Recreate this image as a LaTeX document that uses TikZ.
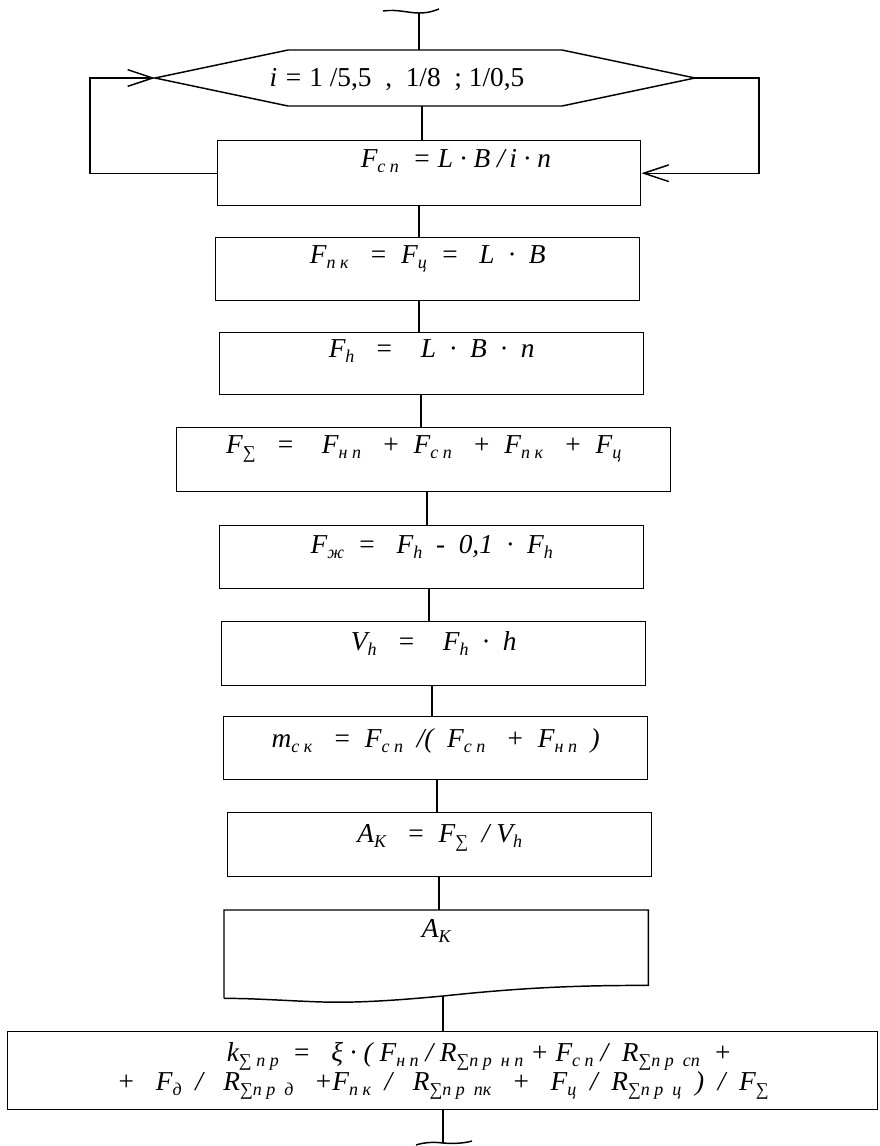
\documentclass[tikz,border=0pt]{standalone}
\usepackage{fontspec}
\setmainfont{Liberation Serif}
\usetikzlibrary{arrows.meta}
\newcommand\sbs[1]{\raisebox{-3.8pt}{\fontsize{13.5}{14}\selectfont #1}}
\begin{document}
\begin{tikzpicture}[x=0.75pt,y=-0.75pt,line width=1.1pt,
  txt/.style={font=\itshape\fontsize{20.5}{24}\selectfont},
  box/.style={draw,rectangle,inner sep=0pt,anchor=north west,txt,minimum width=318pt},
  plain/.style={rectangle,inner sep=0pt,anchor=north west,txt},
  conn/.style={draw,line width=1.1pt},
  barb/.style={-{Straight Barb[length=18.75pt,width=12.5pt]}}]
\fill[white] (0,0) rectangle (880,1146);
\path[use as bounding box] (0,0) rectangle (880,1146);

% start terminator
\coordinate (st) at (419,13);
\draw (383,11) .. controls (398,9) and (408,13) .. (st) .. controls (428,13) and (434,11) .. (439,9);

% hexagon (loop)
\coordinate (hL) at (155,78);
\coordinate (hR) at (695,78);
\coordinate (hT) at (419,50);
\coordinate (hB) at (422,106);
\draw (hL) -- (288,50) -- (562,50) -- (hR) -- (562,106) -- (288,106) -- cycle;
\node[txt,anchor=base] (hx) at (397,86) {i~=~\upshape 1~/5,5~~,~~1/8~~;~1/0,5};

% boxes
\node[box,minimum width=317.25pt,text height=20.25pt,text depth=28.5pt] (b1) at (217,140)
  {\hspace*{40pt}F\sbs{с~п}~~=~L~·~B~/\,i~·~n};
\node[box,text height=19.5pt,text depth=27.75pt] (b2) at (215,237)
  {F\sbs{п~к}~~~=~~F\sbs{ц}~~=~~~L~~·~~B};
\node[box,text height=18.75pt,text depth=27.75pt] (b3) at (219,332)
  {F\sbs{h}~~~=~~~~L~~·~~B~~·~~n};
\node[box,minimum width=370.5pt,text height=19.5pt,text depth=28.5pt] (b4) at (176,427)
  {F\sbs{∑}~~~=~~~~F\sbs{н~п}~~~+~~F\sbs{с~п}~~~+~~F\sbs{п~к}~~~+~~F\sbs{ц}};
\node[box,text height=21pt,text depth=26.25pt] (b5) at (219,525)
  {F\sbs{ж}~~=~~~F\sbs{h}~~-~~0,1~~·~~F\sbs{h}};
\node[box,text height=21.75pt,text depth=26.25pt] (b6) at (221,621)
  {V\sbs{h}~~~=~~~~F\sbs{h}~~·~~h};
\node[box,text height=23.25pt,text depth=24pt] (b7) at (223,716)
  {m\sbs{с~к}~~~=~~F\sbs{с~п}~~/(~~F\sbs{с~п}~~~+~~F\sbs{н~п}~~)};
\node[box,text height=22.5pt,text depth=25.5pt] (b8) at (227,812)
  {A\sbs{K}~~~=~~F\sbs{∑}~~/~V\sbs{h}};

% document (output) shape
\node[plain,minimum width=317.25pt,text height=20.25pt,text depth=45pt] (doc) at (224,910) {A\sbs{K}};
\coordinate (wv) at (443,996);
\draw (doc.south west) -- (doc.north west) -- (doc.north east) -- ([yshift=9.75pt]doc.south east)
  .. controls (560,985) and (500,990) .. (wv)
  .. controls (400,1000) and (360,1003) .. (323,1002)
  .. controls (290,1001) and (250,998) .. (doc.south west);

\node[box,minimum width=652.5pt,minimum height=58.5pt,align=center,
  font=\itshape\fontsize{20.5}{20.25}\selectfont] (b9) at (7,1031)
  {\hspace*{55pt}k\sbs{∑~п~р}~~=~~~ξ~·~(~F\sbs{н~п}~/~R\sbs{∑п~р~~н~п}~+~F\sbs{с~п}~/~~R\sbs{∑п~р~~сп}~~+\\
   +~~~F\sbs{д}~~/~~~R\sbs{∑п~р~~д}~~~+F\sbs{п~к}~~/~~~R\sbs{∑п~р~~пк}~~~+~~~F\sbs{ц}~~/~~R\sbs{∑п~р~~ц}~~)~~/~~F\sbs{∑}};

% end terminator
\coordinate (en) at (443,1143);
\draw (416,1145) .. controls (425,1142) and (435,1142) .. (en) .. controls (455,1144) and (465,1143) .. (472,1141);

% connectors
\coordinate (x1) at (422,0);
\coordinate (x2) at (419,0);
\coordinate (x3) at (421,0);
\coordinate (x4) at (427,0);
\coordinate (x5) at (429,0);
\coordinate (x6) at (432,0);
\coordinate (x7) at (437,0);
\coordinate (x8) at (439,0);
\coordinate (lx) at (90,0);
\coordinate (rx) at (759,0);
\draw[conn] (st) -- (hT);
\draw[conn] (hB) -- (b1.north -| x1);
\draw[conn] (b1.south -| x2) -- (b2.north -| x2);
\draw[conn] (b2.south -| x2) -- (b3.north -| x2);
\draw[conn] (b3.south -| x3) -- (b4.north -| x3);
\draw[conn] (b4.south -| x4) -- (b5.north -| x4);
\draw[conn] (b5.south -| x5) -- (b6.north -| x5);
\draw[conn] (b6.south -| x6) -- (b7.north -| x6);
\draw[conn] (b7.south -| x7) -- (b8.north -| x7);
\draw[conn] (b8.south -| x8) -- (doc.north -| x8);
\draw[conn] (wv) -- (b9.north -| wv);
\draw[conn] (b9.south -| en) -- (en);
\draw[conn,barb] (b1.west) -- (b1.west -| lx) -- (hL -| lx) -- (hL);
\draw[conn,barb] (hR) -- (hR -| rx) -- (b1.east -| rx) -- (b1.east);
\end{tikzpicture}
\end{document}
